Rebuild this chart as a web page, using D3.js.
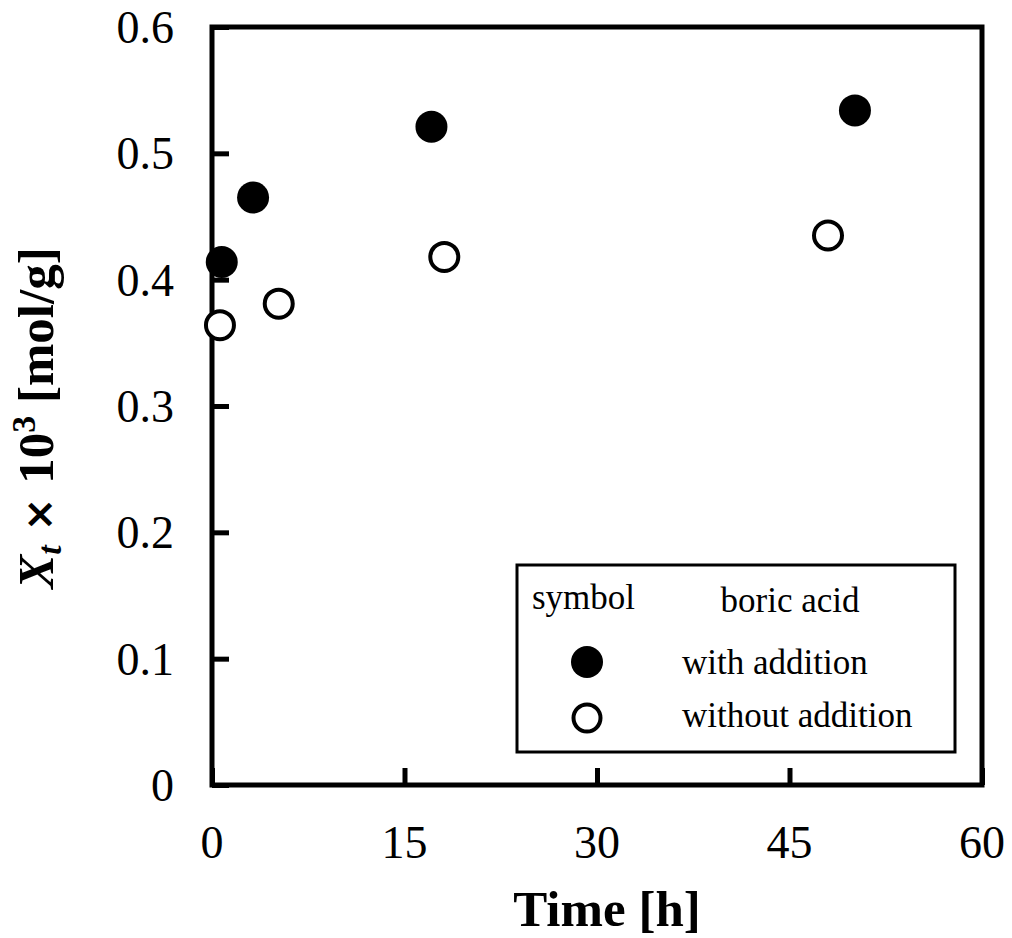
<!DOCTYPE html>
<html>
<head>
<meta charset="utf-8">
<script src="https://cdn.jsdelivr.net/npm/d3@7"></script>
<style>
  body { margin: 0; background: #fff; }
  svg { font-family: "Liberation Serif", "Times New Roman", serif; }
</style>
</head>
<body>
<div id="chart"></div>
<script>
// data
var withTime = [0.76, 3.2, 17.1, 50.1];
var withX = [0.414, 0.465, 0.521, 0.534];
var withoutTime = [0.62, 5.2, 18.1, 48.0];
var withoutX = [0.364, 0.381, 0.418, 0.435];
var xTicks = [0, 15, 30, 45, 60];
var yTicks = [0, 0.1, 0.2, 0.3, 0.4, 0.5, 0.6];
var legendLabels = ["with addition", "without addition"];

var width = 1012, height = 938;
var pLeft = 212, pRight = 982, pTop = 27, pBottom = 785;

var svg = d3.select("#chart").append("svg")
    .attr("width", width)
    .attr("height", height);

var x = d3.scaleLinear().domain([0, 60]).range([pLeft, pRight]);
var y = d3.scaleLinear().domain([0, 0.6]).range([pBottom, pTop]);

// ticks inside the frame
svg.append("g")
    .attr("transform", "translate(0," + pBottom + ")")
    .call(d3.axisTop(x).tickValues(xTicks).tickSize(17).tickFormat(""))
    .call(g => g.select(".domain").remove())
    .selectAll("line").attr("stroke", "#000").attr("stroke-width", 5);

svg.append("g")
    .attr("transform", "translate(" + pLeft + ",0)")
    .call(d3.axisRight(y).tickValues(yTicks).tickSize(17).tickFormat(""))
    .call(g => g.select(".domain").remove())
    .selectAll("line").attr("stroke", "#000").attr("stroke-width", 5);

// tick labels
svg.append("g").selectAll("text")
    .data(xTicks).enter().append("text")
    .attr("x", d => x(d))
    .attr("y", 858)
    .attr("text-anchor", "middle")
    .style("font-size", "46px")
    .text(d => d);

svg.append("g").selectAll("text")
    .data(yTicks).enter().append("text")
    .attr("x", 174)
    .attr("y", d => y(d) + 16)
    .attr("text-anchor", "end")
    .style("font-size", "46px")
    .text(d => d === 0 ? "0" : d3.format(".1f")(d));

// frame
svg.append("rect")
    .attr("x", pLeft).attr("y", pTop)
    .attr("width", pRight - pLeft).attr("height", pBottom - pTop)
    .attr("fill", "none").attr("stroke", "#000").attr("stroke-width", 5);

// points
var withPts = withTime.map((t, i) => [t, withX[i]]);
var withoutPts = withoutTime.map((t, i) => [t, withoutX[i]]);

svg.append("g").selectAll("circle")
    .data(withPts).enter().append("circle")
    .attr("cx", d => x(d[0])).attr("cy", d => y(d[1]))
    .attr("r", 16).attr("fill", "#000");

svg.append("g").selectAll("circle")
    .data(withoutPts).enter().append("circle")
    .attr("cx", d => x(d[0])).attr("cy", d => y(d[1]))
    .attr("r", 14).attr("fill", "#fff")
    .attr("stroke", "#000").attr("stroke-width", 4);

// legend
var lg = svg.append("g");
lg.append("rect")
    .attr("x", 517).attr("y", 565)
    .attr("width", 438).attr("height", 187)
    .attr("fill", "#fff").attr("stroke", "#000").attr("stroke-width", 3);
lg.append("text").attr("x", 532).attr("y", 609)
    .style("font-size", "35px").text("symbol");
lg.append("text").attr("x", 790).attr("y", 612)
    .attr("text-anchor", "middle")
    .style("font-size", "35px").text("boric acid");
lg.append("circle").attr("cx", 587).attr("cy", 662).attr("r", 16).attr("fill", "#000");
lg.append("circle").attr("cx", 587).attr("cy", 718).attr("r", 13.5)
    .attr("fill", "#fff").attr("stroke", "#000").attr("stroke-width", 4);
lg.selectAll(".lab").data(legendLabels).enter().append("text")
    .attr("class", "lab")
    .attr("x", 682).attr("y", (d, i) => 674 + i * 53)
    .style("font-size", "35px").text(d => d);

// axis titles
svg.append("text")
    .attr("x", 607).attr("y", 926)
    .attr("text-anchor", "middle")
    .style("font-size", "51px").style("font-weight", "bold")
    .text("Time [h]");

var yt = svg.append("text")
    .attr("transform", "translate(53,418) rotate(-90)")
    .attr("text-anchor", "middle")
    .style("font-size", "51px").style("font-weight", "bold");
yt.append("tspan").style("font-style", "italic").text("X");
yt.append("tspan").style("font-style", "italic").style("font-size", "34px")
    .attr("dy", 8).text("t");
yt.append("tspan").attr("dy", -8).style("font-family", "DejaVu Sans").style("font-size", "40px").text(" \u00d7 ");
yt.append("tspan").text("10");
yt.append("tspan").style("font-size", "34px").attr("dy", -18).text("3");
yt.append("tspan").attr("dy", 18).text(" [mol/g]");
</script>
</body>
</html>
